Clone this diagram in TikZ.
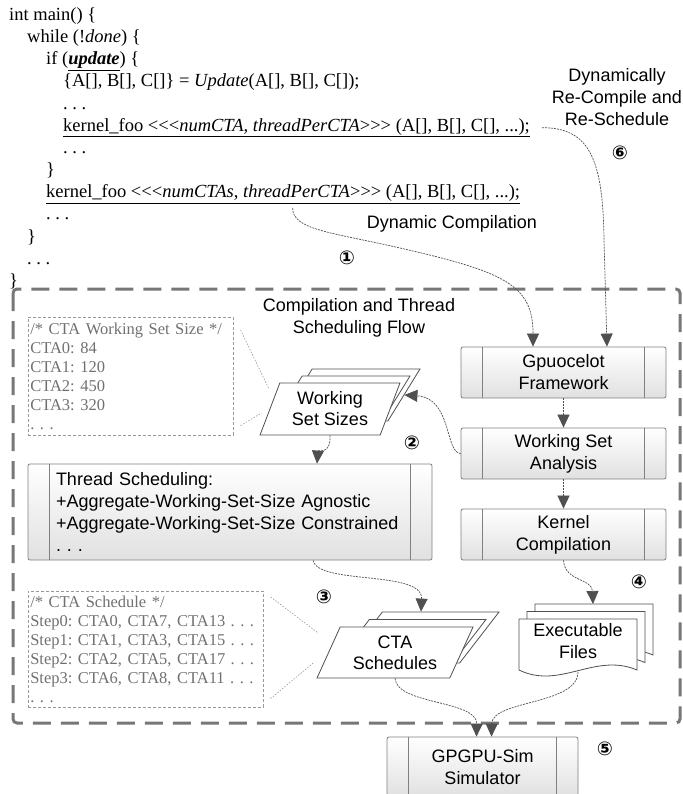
\documentclass[tikz,border=0pt]{standalone}
\usepackage{fontspec}
\setmainfont{Liberation Serif}
\setsansfont{Liberation Sans}
\newfontfamily\circfont{DejaVu Sans}
\usetikzlibrary{shapes.geometric,arrows.meta,calc}

\definecolor{boxline}{HTML}{808080}
\definecolor{flowline}{HTML}{505050}
\definecolor{notetext}{HTML}{707070}
\definecolor{frameline}{HTML}{777777}

\newcommand\ltlt{<\kern0pt<\kern0pt<}
\newcommand\gtgt{>\kern0pt>\kern0pt>}

\tikzset{
  codeline/.style={anchor=base west, inner sep=0pt, font=\fontsize{18.5}{22}\selectfont},
  proc/.style={draw=boxline, line width=0.8pt, rounded corners=2pt, top color=white, bottom color=black!12,
    minimum width=205pt, minimum height=51pt, align=center, font=\sffamily\fontsize{18}{22}\selectfont},
  procline/.style={draw=boxline, line width=0.8pt},
  sheet/.style={trapezium, trapezium left angle=67, trapezium right angle=113, trapezium stretches=true,
    draw=flowline, fill=white, line width=0.8pt, inner sep=1pt, minimum width=140pt, minimum height=52pt,
    align=center, font=\sffamily\fontsize{18}{21}\selectfont},
  docsheet/.style={draw=flowline, fill=white, line width=0.8pt},
  note/.style={draw=black!40, dash pattern=on 3pt off 2pt, line width=0.6pt, text=notetext,
    anchor=north west, align=left, inner xsep=2pt, font=\fontsize{16.5}{19}\selectfont},
  callout/.style={draw=black!45, dash pattern=on 1.5pt off 1.5pt, line width=0.5pt},
  flow/.style={draw=flowline, dash pattern=on 2pt off 1pt, line width=0.7pt, -{Triangle[length=13pt,width=12pt]}},
  num/.style={inner sep=0pt, font=\circfont\bfseries\fontsize{19}{19}\selectfont},
  lbl/.style={inner sep=0pt, align=center, font=\sffamily\fontsize{18}{22}\selectfont},
  frame/.style={draw=frameline, line width=3pt, dash pattern=on 18pt off 10pt, rounded corners=4pt},
}

\begin{document}
\frenchspacing
\begin{tikzpicture}[x=1pt,y=-1pt]
\useasboundingbox (0,0) rectangle (682,794);

% host code
\node[codeline] (l0) at (9,20.5) {int main() \{};
\node[codeline] (l1) at (27,42.6) {while (!\textit{done}) \{};
\node[codeline] (l2) at (46,64.8) {if (\underline{\textbf{\textit{update}}}) \{};
\node[codeline] (l3) at (63,86.9) {\{A[], B[], C[]\} = \textit{Update}(A[], B[], C[]);};
\node[codeline] (l4) at (63,109.1) {. . .};
\node[codeline] (kern1) at (63,131.2) {\underline{kernel\_foo \ltlt\textit{numCTA, threadPerCTA}\gtgt{} (A[], B[], C[], ...);}};
\node[codeline] (l6) at (63,153.4) {. . .};
\node[codeline] (l7) at (46,175.5) {\}};
\node[codeline] (kern2) at (46,197.7) {\underline{kernel\_foo \ltlt\textit{numCTAs}, \textit{threadPerCTA}\gtgt{} (A[], B[], C[], ...);}};
\node[codeline] (l9) at (46,219.8) {. . .};
\node[codeline] (l10) at (27,242) {\}};
\node[codeline] (l11) at (27,264.1) {. . .};
\node[codeline] (l12) at (9,286.3) {\}};

% flow frame
\draw[frame] (13,289) rectangle (680,723);
\node[lbl] (title) at (359,318) {Compilation and Thread\\Scheduling Flow};

% processes
\node[proc] (G) at (563.5,372.5) {Gpuocelot\\Framework};
\node[proc] (W) at (563.5,453.5) {Working Set\\Analysis};
\node[proc] (K) at (563.5,534.5) {Kernel\\Compilation};
\node[proc, minimum width=404pt, minimum height=96pt, text width=348pt, align=left] (TS) at (230,512)
  {Thread Scheduling:\\+Aggregate-Working-Set-Size Agnostic\\+Aggregate-Working-Set-Size Constrained\\. . .};
\node[proc, minimum width=191pt, minimum height=60pt] (GP) at (482.5,767) {GPGPU-Sim\\Simulator};
\foreach \n in {G,W,K,TS,GP}{
  \draw[procline] ([xshift=22pt]\n.north west) -- ([xshift=22pt]\n.south west);
  \draw[procline] ([xshift=-22pt]\n.north east) -- ([xshift=-22pt]\n.south east);
}

% data stacks
\node[sheet] (WSS3) at (350,395) {};
\node[sheet] (WSS2) at (340,402) {};
\node[sheet] (WSS) at (330,409) {Working\\Set Sizes};

\node[sheet, trapezium left angle=63, trapezium right angle=117, minimum width=156pt, minimum height=51pt] (CS3) at (421,637.5) {};
\node[sheet, trapezium left angle=63, trapezium right angle=117, minimum width=156pt, minimum height=51pt] (CS2) at (408,645) {};
\node[sheet, trapezium left angle=63, trapezium right angle=117, minimum width=156pt, minimum height=51pt] (CS) at (395,652.5) {CTA\\Schedules};

\foreach \i in {2,1,0}
  \draw[docsheet, shift={(8*\i,-7.5*\i)}] (519,670) -- (519,619) -- (637,619) -- (637,670)
    .. controls (595,652) and (560,690) .. cycle;
\node[lbl] (EF) at (578,641) {Executable\\Files};
\coordinate (EFtop) at (593,604);
\coordinate (EFbot) at (578,672);

% notes
\node[note, text width=201pt, minimum height=118pt] (N1) at (28,317)
  {/* CTA Working Set Size */\\CTA0: 84\\CTA1: 120\\CTA2: 450\\CTA3: 320\\. . .};
\node[note, text width=231pt, minimum height=116pt] (N2) at (28,591)
  {/* CTA Schedule */\\Step0: CTA0, CTA7, CTA13 . . .\\Step1: CTA1, CTA3, CTA15 . . .\\Step2: CTA2, CTA5, CTA17 . . .\\Step3: CTA6, CTA8, CTA11 . . .\\. . .};
\draw[callout] ([shift={(7,13)}]N1.north east) -- ([shift={(-1,-21)}]WSS.left side);
\draw[callout] ([shift={(7,-10)}]N1.south east) -- ([shift={(-8,4)}]WSS.left side);
\draw[callout] ([shift={(7,6)}]N2.north east) -- ([shift={(-10,-19.5)}]CS.left side);
\draw[callout] ([shift={(7,-9)}]N2.south east) -- ([shift={(-15,10.5)}]CS.left side);

% connectors
\draw[flow] ($(kern2.south west)!0.52!(kern2.south east)+(0,4)$) .. controls +(0,22) and (330,232) .. (400,248)
  .. controls (505,272) and (533,285) .. ([xshift=-30.5pt]G.north);
\draw[flow] ([xshift=12pt]kern1.east) .. controls +(48,0) and (603,160) .. (604,240) -- ([xshift=43.5pt]G.north);
\draw[flow] (G.south) -- (W.north);
\draw[flow] (W.south) -- (K.north);
\draw[flow] (W.west) .. controls (445,453) and (452,398) .. (WSS3.right side);
\draw[flow] (WSS.south) .. controls (331,455) and (318,450) .. ([xshift=87pt]TS.north);
\draw[flow] ([xshift=83pt]TS.south) .. controls (318,585) and (423,570) .. (CS3.north);
\draw[flow] (K.south) .. controls (565,582) and (592,578) .. (EFtop);
\draw[flow] (CS.south) .. controls (397,705) and (477,700) .. ([xshift=-6pt]GP.north);
\draw[flow] (EFbot) .. controls (578,705) and (492,700) .. ([xshift=9pt]GP.north);

% labels
\node[lbl] (dyn) at (452,224) {Dynamic Compilation};
\node[lbl] (redo) at (617,97.5) {Dynamically\\Re-Compile and\\Re-Schedule};
\node[num] (c1) at (347,258) {①};
\node[num] (c2) at (412,443) {②};
\node[num] (c3) at (324,597) {③};
\node[num] (c4) at (639,582) {④};
\node[num] (c5) at (605,749) {⑤};
\node[num] (c6) at (620,153) {⑥};
\end{tikzpicture}
\end{document}
